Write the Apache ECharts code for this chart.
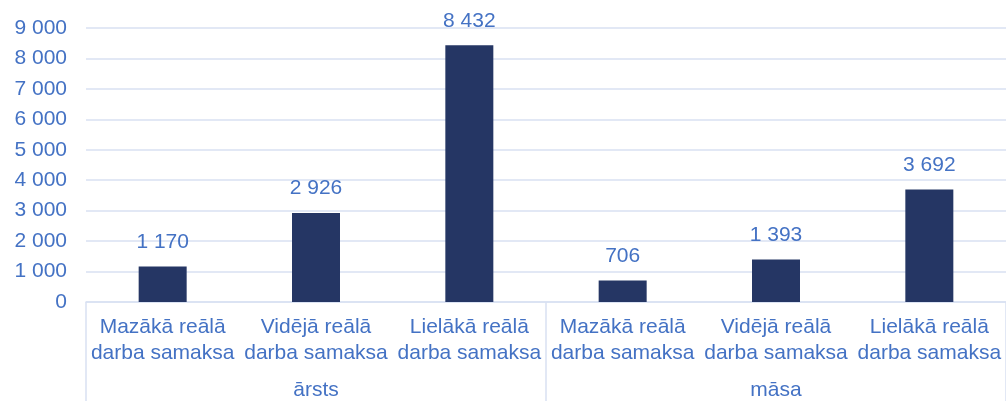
<!DOCTYPE html>
<html>
<head>
<meta charset="utf-8">
<script src="https://cdn.jsdelivr.net/npm/echarts@6/dist/echarts.min.js"></script>
<style>html,body{margin:0;padding:0;background:#fff}#c{width:1006px;height:401px}</style>
</head>
<body>
<div id="c"></div>
<script>
const categories = ['Mazākā reālā\ndarba samaksa','Vidējā reālā\ndarba samaksa','Lielākā reālā\ndarba samaksa','Mazākā reālā\ndarba samaksa','Vidējā reālā\ndarba samaksa','Lielākā reālā\ndarba samaksa'];
const groups = ['ārsts','māsa'];
const values = [1170, 2926, 8432, 706, 1393, 3692];

const fmt = v => String(v).replace(/\B(?=(\d{3})+(?!\d))/g, ' ');
const txt = '#4472C4';
const gridCol = '#D9E1F2';
const ff = 'Liberation Sans';
const chart = echarts.init(document.getElementById('c'));
chart.setOption({
  animation: false,
  textStyle: {fontFamily: ff},
  grid: {left: 86, right: 0, top: 28, bottom: 98},
  xAxis: [{
    type: 'category', data: categories, position: 'bottom',
    axisLine: {show: true, lineStyle: {color: gridCol, width: 1.5}},
    axisTick: {show: false},
    axisLabel: {color: txt, fontSize: 21, lineHeight: 26, margin: 12, interval: 0, fontFamily: ff}
  }, {
    type: 'category', data: groups, position: 'bottom',
    axisLine: {show: false},
    axisTick: {show: true, length: 100, lineStyle: {color: gridCol, width: 1.5}},
    axisLabel: {color: txt, fontSize: 21, margin: 78, fontFamily: ff}
  }],
  yAxis: {
    type: 'value', min: 0, max: 9000, interval: 1000,
    axisLine: {show: false}, axisTick: {show: false},
    splitLine: {lineStyle: {color: gridCol, width: 1.5}},
    axisLabel: {color: txt, fontSize: 21, margin: 19, formatter: v => fmt(v), fontFamily: ff}
  },
  series: [{
    type: 'bar', data: values, barWidth: 48, xAxisIndex: 0,
    itemStyle: {color: '#253664'},
    label: {show: true, position: 'top', distance: 14, color: txt, fontSize: 21, formatter: p => fmt(p.value), fontFamily: ff}
  }]
});
</script>
</body>
</html>
